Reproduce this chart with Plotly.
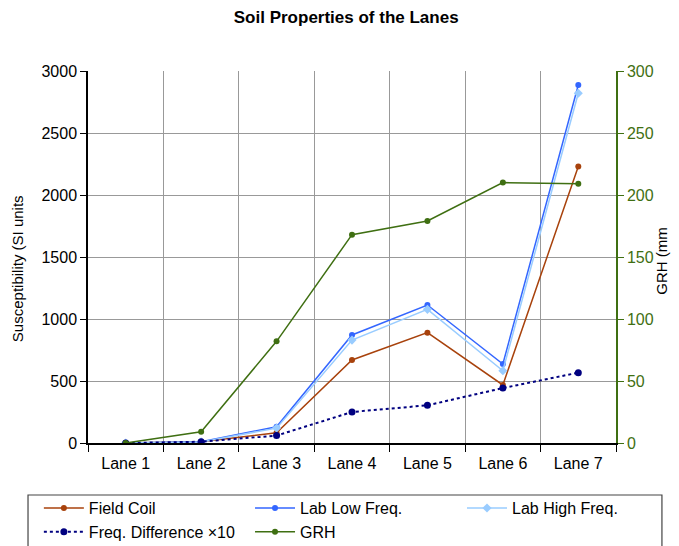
import plotly.graph_objects as go

lanes = ['Lane 1', 'Lane 2', 'Lane 3', 'Lane 4', 'Lane 5', 'Lane 6', 'Lane 7']
field_coil = [0, 10, 83, 670, 890, 468, 2230]
lab_low = [0, 10, 131, 871, 1113, 637, 2887]
lab_high = [0, 9, 120, 830, 1078, 583, 2820]
freq_diff_x10 = [0, 10, 60, 250, 304, 443, 567]
grh = [0, 9, 82, 168, 179, 210, 209]

FONT = 'Liberation Sans, Arial, sans-serif'
GREEN = '#3f6f12'

fig = go.Figure()

# one legend per column so the three columns line up like the original
fig.add_trace(go.Scatter(
    x=lanes, y=field_coil, name='Field Coil', mode='lines+markers',
    line=dict(color='#a8420c', width=1.5), marker=dict(size=6), legend='legend',
))
fig.add_trace(go.Scatter(
    x=lanes, y=lab_low, name='Lab Low Freq.', mode='lines+markers',
    line=dict(color='#3366ff', width=1.5), marker=dict(size=6), legend='legend2',
))
fig.add_trace(go.Scatter(
    x=lanes, y=lab_high, name='Lab High Freq.', mode='lines+markers',
    line=dict(color='#99ccff', width=1.5), marker=dict(size=7, symbol='diamond'),
    legend='legend3',
))
fig.add_trace(go.Scatter(
    x=lanes, y=freq_diff_x10, name='Freq. Difference \u00d710', mode='lines+markers',
    line=dict(color='#000080', width=2, dash='dot'), marker=dict(size=7), legend='legend',
))
fig.add_trace(go.Scatter(
    x=lanes, y=grh, name='GRH', mode='lines+markers',
    line=dict(color=GREEN, width=1.5), marker=dict(size=6), yaxis='y2', legend='legend2',
))

legend_style = dict(
    orientation='v', xref='container', xanchor='left',
    yref='container', y=0.102, yanchor='top',
    font=dict(size=16), bgcolor='rgba(0,0,0,0)', tracegroupgap=0, itemwidth=40,
)

# page body adds an 8px offset, so the figure is sized to the visible area
fig.update_layout(
    width=671, height=538,
    paper_bgcolor='white', plot_bgcolor='white',
    font=dict(family=FONT, size=16, color='black'),
    title=dict(text='<b>Soil Properties of the Lanes</b>', x=0.504, xanchor='center',
               y=0.983, yanchor='middle', font=dict(size=17)),
    margin=dict(l=80, r=63, t=63, b=103, autoexpand=False),
    xaxis=dict(
        type='category', tickson='boundaries', ticks='outside', ticklen=7,
        showline=True, linecolor='black', linewidth=1.5, tickcolor='black',
        showgrid=True, gridcolor='#999999', gridwidth=1,
        tickfont=dict(size=16), range=[-0.5, 6.5], ticklabelstandoff=5,
    ),
    yaxis=dict(
        range=[0, 3000], dtick=500, ticks='outside', ticklen=6,
        showline=True, linecolor='black', linewidth=1.5, tickcolor='black',
        showgrid=True, gridcolor='#999999', gridwidth=1, zeroline=False,
        tickfont=dict(size=16),
    ),
    yaxis2=dict(
        range=[0, 300], dtick=50, overlaying='y', side='right',
        ticks='outside', ticklen=6, showline=True, linecolor=GREEN, linewidth=1.5,
        tickcolor=GREEN, showgrid=False, zeroline=False,
        tickfont=dict(size=16, color=GREEN),
    ),
    legend=dict(legend_style, x=0.046),
    legend2=dict(legend_style, x=0.3607),
    legend3=dict(legend_style, x=0.6766),
    showlegend=True,
    annotations=[
        dict(text='Susceptibility (SI units', xref='paper', yref='paper',
             x=-0.1345, y=0.47, textangle=-90, showarrow=False,
             xanchor='center', yanchor='middle', font=dict(size=15)),
        dict(text='GRH (mm', xref='paper', yref='paper',
             x=1.087, y=0.49, textangle=-90, showarrow=False,
             xanchor='center', yanchor='middle', font=dict(size=15)),
    ],
    shapes=[dict(
        type='rect', xref='paper', yref='paper',
        x0=-0.1136, x1=1.087, y0=-0.32, y1=-0.1398,
        line=dict(color='#444444', width=1.2),
    )],
)

fig.write_html('out.html')
